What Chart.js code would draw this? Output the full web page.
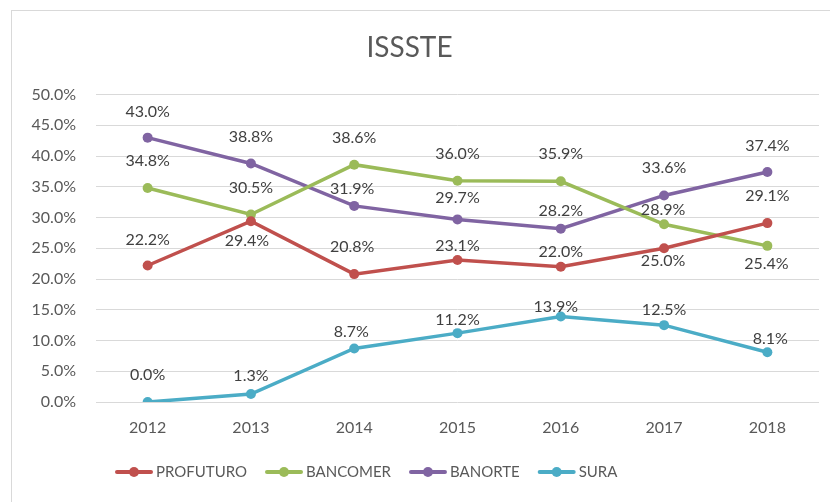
<!DOCTYPE html>
<html>
<head>
<meta charset="utf-8">
<script src="https://cdn.jsdelivr.net/npm/chart.js@4"></script>
<style>
  body { margin: 0; background: #fff; }
</style>
</head>
<body>
<canvas id="lineChart" width="830" height="502"></canvas>
<script>
const years = ['2012', '2013', '2014', '2015', '2016', '2017', '2018'];
const profuturo = [22.2, 29.4, 20.8, 23.1, 22.0, 25.0, 29.1];
const bancomer = [34.8, 30.5, 38.6, 36.0, 35.9, 28.9, 25.4];
const banorte = [43.0, 38.8, 31.9, 29.7, 28.2, 33.6, 37.4];
const sura = [0.0, 1.3, 8.7, 11.2, 13.9, 12.5, 8.1];

// where each value label sits relative to its point [dx, dy]
const profuturoLbl = [[0,-26],[-4,20],[-2,-27],[0,-14],[0,-15],[-1,13],[0,-27]];
const bancomerLbl = [[0,-27],[0,-27],[0,-27],[0,-27],[0,-27],[-1,-14],[-1,18]];
const banorteLbl = [[0,-26],[0,-27],[-2,-17],[0,-22],[0,-18],[0,-28],[0,-26]];
const suraLbl = [[0,-27],[0,-18],[-3,-17],[0,-13],[-5,-10],[0,-15],[3,-13]];

const FONT = 'Lato, "Open Sans", sans-serif';
const TXT = '#595959';

function series(label, data, color, lbl) {
  return {
    label: label,
    data: data,
    borderColor: color,
    backgroundColor: color,
    borderWidth: 3.5,
    pointRadius: 5,
    pointHoverRadius: 5,
    pointBorderWidth: 0,
    pointStyle: 'circle',
    tension: 0,
    lbl: lbl
  };
}

const valueLabels = {
  id: 'valueLabels',
  afterDatasetsDraw(chart) {
    const g = chart.ctx;
    g.save();
    g.font = '16px ' + FONT;
    g.fillStyle = '#404040';
    g.textAlign = 'center';
    g.textBaseline = 'middle';
    chart.data.datasets.forEach((ds, i) => {
      chart.getDatasetMeta(i).data.forEach((pt, j) => {
        const o = ds.lbl[j];
        g.fillText(ds.data[j].toFixed(1) + '%', pt.x + o[0], pt.y + o[1]);
      });
    });
    g.restore();
  }
};

// excel-like legend: short line with a dot, sitting left of centre
const lineLegend = {
  id: 'lineLegend',
  afterDraw(chart) {
    const g = chart.ctx;
    g.save();
    g.font = '15px ' + FONT;
    g.textBaseline = 'middle';
    let x = 115;
    const y = 472;
    chart.data.datasets.forEach(ds => {
      g.strokeStyle = ds.borderColor;
      g.fillStyle = ds.borderColor;
      g.lineWidth = 4;
      g.lineCap = 'round';
      g.beginPath(); g.moveTo(x + 2, y); g.lineTo(x + 36, y); g.stroke();
      g.beginPath(); g.arc(x + 19, y, 5, 0, Math.PI * 2); g.fill();
      g.fillStyle = TXT;
      g.fillText(ds.label, x + 41, y);
      x += 41 + g.measureText(ds.label).width + 18;
    });
    g.restore();
  }
};

const frame = {
  id: 'frame',
  beforeDraw(chart) {
    const g = chart.ctx;
    g.save();
    g.fillStyle = '#fff';
    g.fillRect(0, 0, chart.width, chart.height);
    g.strokeStyle = '#d9d9d9';
    g.lineWidth = 1;
    g.strokeRect(11.5, 10.5, 900, 600);
    g.restore();
  }
};

const ctx = document.getElementById('lineChart');
new Chart(ctx, {
  type: 'line',
  data: {
    labels: years,
    datasets: [
      series('PROFUTURO', profuturo, '#C0504D', profuturoLbl),
      series('BANCOMER', bancomer, '#9BBB59', bancomerLbl),
      series('BANORTE', banorte, '#8064A2', banorteLbl),
      series('SURA', sura, '#4BACC6', suraLbl)
    ]
  },
  options: {
    responsive: false,
    animation: false,
    layout: { padding: { left: 0, right: 11, top: 20, bottom: 60 } },
    plugins: {
      title: {
        display: true,
        text: 'ISSSTE',
        color: TXT,
        font: { family: FONT, size: 28, weight: 'normal' },
        padding: { top: 11, bottom: 30 }
      },
      legend: { display: false },
      tooltip: { enabled: false }
    },
    scales: {
      x: {
        offset: true,
        afterFit(scale) { scale.height = 40; },
        grid: { display: false, drawTicks: false },
        border: { display: false },
        ticks: { color: TXT, font: { family: FONT, size: 16 }, padding: 16 }
      },
      y: {
        min: 0,
        max: 50,
        afterFit(scale) { scale.width = 96; },
        grid: { color: '#d9d9d9', drawTicks: false },
        border: { display: false },
        ticks: {
          stepSize: 5,
          color: TXT,
          font: { family: FONT, size: 16 },
          padding: 20,
          callback: v => v.toFixed(1) + '%'
        }
      }
    }
  },
  plugins: [frame, valueLabels, lineLegend]
});
</script>
</body>
</html>
